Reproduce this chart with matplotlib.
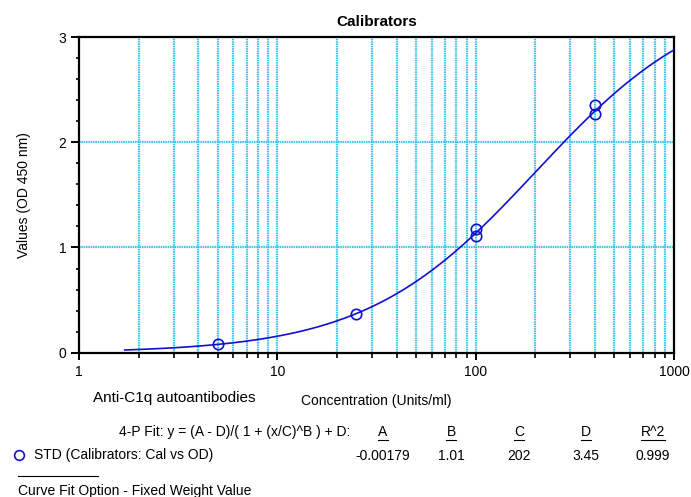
import numpy as np
import matplotlib
matplotlib.use("Agg")
import matplotlib.pyplot as plt
from matplotlib.lines import Line2D

plt.rcParams['font.family'] = ['Liberation Sans', 'DejaVu Sans']

# calibrator readings (Units/ml vs OD 450 nm)
cal_conc = [5, 25, 100, 100, 400, 400]
cal_od = [0.083, 0.37, 1.11, 1.175, 2.27, 2.35]

# 4-P fit parameters as printed under the chart
fit_names = ['A', 'B', 'C', 'D', 'R^2']
fit_values = ['-0.00179', '1.01', '202', '3.45', '0.999']
A, B, C, D = -0.00179, 1.01, 202, 3.45
curve_start, curve_end = 1.7, 1000

W, H = 691, 497
fig = plt.figure(figsize=(W / 100, H / 100), dpi=100)

def px(x, y):
    # pixel position (from top-left) -> figure fraction
    return x / W, 1 - y / H

ax = fig.add_axes([79 / W, 1 - 352.7 / H, (674 - 79) / W, (352.7 - 37) / H])

xs = np.logspace(np.log10(curve_start), np.log10(curve_end), 300)
ys = D + (A - D) / (1 + (xs / C) ** B)

grid_col = '#40c2ec'
grid_ls = (0, (0.7, 0.35))
ax.set_xscale('log')
ax.set_xlim(1, 1000)
ax.set_ylim(0, 3)

# dotted light-blue grid: every decade step on x, whole units on y
for v in [m * 10 ** e for e in range(3) for m in range(2, 11)][:-1]:
    ax.axvline(v, color=grid_col, lw=1.6, ls=grid_ls, zorder=1)
for v in [1, 2]:
    ax.axhline(v, color=grid_col, lw=1.6, ls=grid_ls, zorder=1)

ax.plot(xs, ys, color='#1010d0', lw=1.2, zorder=3)
ax.plot(cal_conc, cal_od, ls='none', marker='o', ms=7.5, mfc='none',
        mec='#1010d0', mew=1.2, zorder=4)

for s in ax.spines.values():
    s.set_linewidth(1.6)

ax.set_xticks([1, 10, 100, 1000])
ax.set_xticklabels(['1', '10', '100', '1000'])
ax.set_yticks([0, 1, 2, 3])
ax.set_yticks(np.arange(0, 3.01, 0.2), minor=True)
ax.tick_params(axis='both', which='major', direction='out', width=1.4, labelsize=10)
ax.tick_params(axis='x', which='major', length=5, pad=4)
ax.tick_params(axis='x', which='minor', length=3.5, width=1.2, labelbottom=False)
ax.tick_params(axis='y', which='major', length=6, pad=3)
ax.tick_params(axis='y', which='minor', length=2.5, width=1.2)

ax.set_title('Calibrators', fontsize=11, fontweight='bold', pad=8)
ax.set_ylabel('Values (OD 450 nm)', fontsize=10, labelpad=20)

fig.text(*px(93, 398), 'Anti-C1q autoantibodies', fontsize=11, va='center', ha='left')
fig.text(*px(376, 401), 'Concentration (Units/ml)', fontsize=10, va='center', ha='center')

fig.text(*px(350, 432), '4-P Fit: y = (A - D)/( 1 + (x/C)^B ) + D:', fontsize=10,
         va='center', ha='right')
head_x = [383, 451, 519, 586, 653]
heads = []
for name, val, hx in zip(fit_names, fit_values, head_x):
    heads.append(fig.text(*px(hx, 432), name, fontsize=10, va='center', ha='center'))
    fig.text(*px(hx, 456), val, fontsize=10, va='center', ha='center')

fig.lines.append(Line2D([19 / W], [1 - 455 / H], transform=fig.transFigure, marker='o',
                        ms=7, mfc='none', mec='#1010d0', mew=1.2, ls='none'))
fig.text(*px(34, 455), 'STD (Calibrators: Cal vs OD)', fontsize=10, va='center', ha='left')

fig.lines.append(Line2D([18 / W, 98 / W], [1 - 476 / H, 1 - 476 / H],
                        transform=fig.transFigure, color='black', lw=0.8))
fig.text(*px(18, 491), 'Curve Fit Option - Fixed Weight Value', fontsize=10,
         va='center', ha='left')

# underline the fit parameter headers
fig.canvas.draw()
r = fig.canvas.get_renderer()
for t in heads:
    bb = t.get_window_extent(r)
    y0 = (bb.y0 - 1) / H
    fig.lines.append(Line2D([bb.x0 / W, bb.x1 / W], [y0, y0],
                            transform=fig.transFigure, color='black', lw=0.8))

fig.savefig('out.png', dpi=100)
